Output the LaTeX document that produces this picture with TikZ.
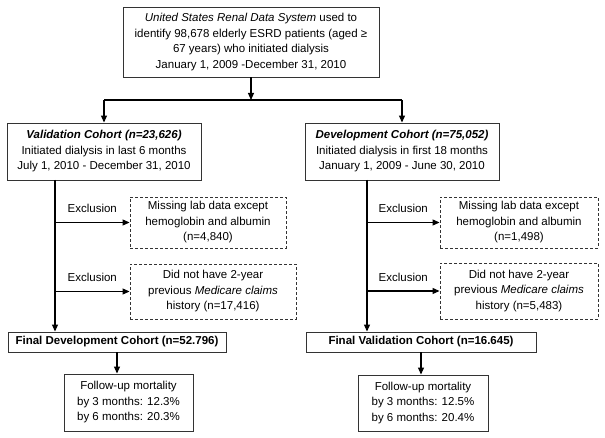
\documentclass[tikz,border=0pt]{standalone}
\usepackage{fontspec}
\setmainfont{Liberation Sans}
\usetikzlibrary{arrows.meta}

\begin{document}
\begin{tikzpicture}[x=1pt,y=-1pt,
	every node/.style={font=\fontsize{11.5}{15.5}\selectfont,align=center,inner sep=0pt},
	box/.style={draw=black!80,line width=0.9pt},
	exbox/.style={box,dash pattern=on 3pt off 2pt},
	link/.style={line width=1.1pt},
	conn/.style={link,-{Triangle[length=7pt,width=6pt]}}]
\useasboundingbox (0,0) rectangle (605,438);
% registry and the two cohorts
\node[box,minimum width=256pt,minimum height=70pt](usrds) at (251,42){\textit{United States Renal Data System} used to\\identify 98,678 elderly ESRD patients (aged ≥\\67 years) who initiated dialysis\\January 1, 2009 -December 31, 2010};
\node[box,minimum width=194pt,minimum height=57pt](valid) at (104,151.5){\textbf{\textit{Validation Cohort (n=23,626)}}\\Initiated dialysis in last 6 months\\July 1, 2010 - December 31, 2010};
\node[box,minimum width=194pt,minimum height=57pt](devel) at (402,151.5){\textbf{\textit{Development Cohort (n=75,052)}}\\Initiated dialysis in first 18 months\\January 1, 2009 - June 30, 2010};
\coordinate (split) at (251,100);
\draw[conn] (usrds.south) -- (split);
\draw[link] (valid.north |- split) -- (devel.north |- split);
\draw[conn] (valid.north |- split) -- (valid.north);
\draw[conn] (devel.north |- split) -- (devel.north);
% exclusions
\node[exbox,minimum width=156pt,minimum height=51pt](miss1) at (208,222.5){Missing lab data except\\hemoglobin and albumin\\(n=4,840)};
\node[exbox,minimum width=166pt,minimum height=55pt](claim1) at (213,291.5){Did not have 2-year\\previous \textit{Medicare claims}\\history (n=17,416)};
\node[exbox,minimum width=158pt,minimum height=51pt](miss2) at (519,222.5){Missing lab data except\\hemoglobin and albumin\\(n=1,498)};
\node[exbox,minimum width=158pt,minimum height=56pt](claim2) at (519,291){Did not have 2-year\\previous \textit{Medicare claims}\\history (n=5,483)};
% final cohorts and mortality
\node[box,minimum width=218pt,minimum height=20pt](fdev) at (117,342){\textbf{Final Development Cohort (n=52.796)}};
\node[box,minimum width=230pt,minimum height=20pt](fval) at (421,342){\textbf{Final Validation Cohort (n=16.645)}};
\node[box,minimum width=129pt,minimum height=57pt](mort1) at (128.5,402.5){Follow-up mortality\\by 3 months: 12.3\%\\by 6 months: 20.3\%};
\node[box,minimum width=130pt,minimum height=56pt](mort2) at (423,403){Follow-up mortality\\by 3 months: 12.5\%\\by 6 months: 20.4\%};
\coordinate (lspine) at (55,180);
\coordinate (rspine) at (367,180);
\draw[conn] (lspine) -- (lspine |- fdev.north);
\draw[conn] (rspine) -- (rspine |- fval.north);
\draw[conn] (lspine |- miss1.west) -- node[above=9pt]{Exclusion} (miss1.west);
\draw[conn] (lspine |- claim1.west) -- node[above=9pt]{Exclusion} (claim1.west);
\draw[conn] (rspine |- miss2.west) -- node[above=9pt]{Exclusion} (miss2.west);
\draw[conn] (rspine |- claim2.west) -- node[above=9pt]{Exclusion} (claim2.west);
\draw[conn] (fdev.south) -- (fdev.south |- mort1.north);
\draw[conn] (fval.south) -- (fval.south |- mort2.north);
\end{tikzpicture}
\end{document}
